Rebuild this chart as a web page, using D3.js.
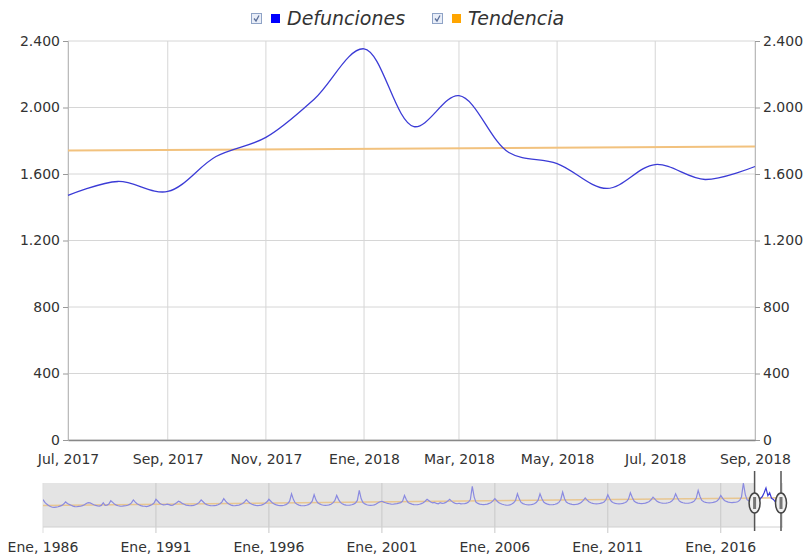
<!DOCTYPE html>
<html>
<head>
<meta charset="utf-8">
<script src="https://cdn.jsdelivr.net/npm/d3@7"></script>
<style>
  body { margin: 0; background: #fff; }
  svg text { font-family: "DejaVu Sans", Verdana, sans-serif; fill: #333; }
</style>
</head>
<body>
<div id="chart"></div>
<script>
// Defunciones mensuales, desde Ene 1986 (una fila por año)
const defunciones = [
  1650, 1480, 1380, 1300, 1230, 1190, 1180, 1200, 1220, 1260, 1300, 1380, // 1986
  1510, 1420, 1360, 1310, 1260, 1230, 1220, 1240, 1250, 1290, 1340, 1420, // 1987
  1470, 1450, 1400, 1340, 1300, 1270, 1260, 1300, 1460, 1300, 1320, 1380, // 1988
  1590, 1480, 1380, 1320, 1280, 1260, 1250, 1270, 1280, 1310, 1360, 1450, // 1989
  1630, 1500, 1400, 1340, 1290, 1260, 1250, 1230, 1260, 1300, 1350, 1440, // 1990
  1670, 1550, 1430, 1370, 1330, 1340, 1380, 1350, 1300, 1320, 1380, 1460, // 1991
  1550, 1500, 1420, 1370, 1320, 1300, 1280, 1290, 1300, 1340, 1400, 1480, // 1992
  1630, 1520, 1420, 1350, 1310, 1290, 1280, 1290, 1300, 1340, 1400, 1500, // 1993
  1710, 1560, 1440, 1370, 1320, 1290, 1280, 1300, 1310, 1360, 1420, 1500, // 1994
  1650, 1530, 1430, 1370, 1330, 1300, 1290, 1300, 1320, 1360, 1430, 1520, // 1995
  1670, 1550, 1440, 1380, 1330, 1300, 1290, 1290, 1310, 1350, 1420, 1550, // 1996
  2000, 1650, 1450, 1370, 1320, 1290, 1280, 1290, 1310, 1350, 1420, 1560, // 1997
  1945, 1620, 1460, 1390, 1340, 1310, 1300, 1310, 1330, 1370, 1450, 1580, // 1998
  1900, 1650, 1480, 1400, 1350, 1320, 1310, 1320, 1340, 1380, 1450, 1600, // 1999
  2200, 1700, 1470, 1390, 1340, 1310, 1300, 1310, 1330, 1380, 1460, 1520, // 2000
  1550, 1500, 1460, 1420, 1400, 1380, 1370, 1390, 1410, 1440, 1470, 1560, // 2001
  1900, 1640, 1480, 1420, 1380, 1350, 1340, 1350, 1370, 1410, 1460, 1550, // 2002
  1670, 1580, 1500, 1450, 1480, 1420, 1400, 1460, 1420, 1440, 1480, 1560, // 2003
  1670, 1560, 1470, 1420, 1400, 1430, 1390, 1400, 1410, 1440, 1500, 1650, // 2004
  2450, 1800, 1500, 1420, 1380, 1360, 1350, 1360, 1380, 1420, 1480, 1570, // 2005
  1710, 1580, 1480, 1420, 1370, 1340, 1320, 1310, 1330, 1390, 1460, 1600, // 2006
  2000, 1680, 1480, 1410, 1370, 1340, 1330, 1340, 1360, 1400, 1470, 1620, // 2007
  2000, 1700, 1500, 1420, 1380, 1350, 1340, 1350, 1370, 1410, 1480, 1640, // 2008
  2100, 1700, 1500, 1430, 1390, 1360, 1350, 1360, 1380, 1420, 1490, 1600, // 2009
  1750, 1620, 1520, 1460, 1420, 1400, 1390, 1400, 1420, 1450, 1510, 1640, // 2010
  1945, 1700, 1530, 1460, 1420, 1400, 1390, 1400, 1420, 1460, 1520, 1680, // 2011
  2060, 1780, 1560, 1480, 1440, 1420, 1410, 1420, 1440, 1480, 1540, 1640, // 2012
  1800, 1680, 1560, 1500, 1460, 1440, 1430, 1440, 1460, 1490, 1560, 1690, // 2013
  2000, 1750, 1570, 1500, 1460, 1440, 1430, 1440, 1460, 1500, 1570, 1740, // 2014
  2200, 1820, 1600, 1520, 1480, 1460, 1450, 1460, 1480, 1510, 1570, 1680, // 2015
  1900, 1720, 1600, 1540, 1500, 1480, 1470, 1480, 1490, 1520, 1600, 1800, // 2016
  2650, 1950, 1650, 1560, 1510, 1480, 1471, 1555, 1495, 1705, 1820, 2050, // 2017
  2353, 1885, 2071, 1729, 1663, 1513, 1657, 1567, 1645                    // 2018
];
const inicioSerie = [1986, 0];

// Tendencia: extremos de la recta (Ene 1986 y Sep 2018 / Jul 2017 y Sep 2018)
const tendenciaNav = [1290, 1765];
const tendenciaVista = [1741, 1765];

const vista = [[2017, 6], [2018, 8]];
const yTicks = [0, 400, 800, 1200, 1600, 2000, 2400];
const navAnios = [1986, 1991, 1996, 2001, 2006, 2011, 2016];
const meses = ["Ene", "Feb", "Mar", "Abr", "May", "Jun", "Jul", "Ago", "Sep", "Oct", "Nov", "Dic"];
const series = [
  { nombre: "Defunciones", color: "#0000ff" },
  { nombre: "Tendencia", color: "#ffa500" }
];

const width = 810, height = 555;
const plot = { left: 68, right: 755, top: 41, bottom: 440 };
const nav = { left: 43, right: 781, top: 483, bottom: 527 };

const locale = d3.timeFormatLocale({
  dateTime: "%x %X", date: "%d/%m/%Y", time: "%H:%M:%S",
  periods: ["AM", "PM"],
  days: ["domingo", "lunes", "martes", "miércoles", "jueves", "viernes", "sábado"],
  shortDays: ["dom", "lun", "mar", "mié", "jue", "vie", "sáb"],
  months: meses, shortMonths: meses
});
const fmtFecha = locale.format("%b, %Y");
const fmtNum = d3.formatLocale({ decimal: ",", thousands: ".", grouping: [3] }).format(",");

const data = defunciones.map((v, i) => ({
  fecha: new Date(inicioSerie[0], inicioSerie[1] + i, 1),
  valor: v
}));
const d0 = new Date(vista[0][0], vista[0][1], 1);
const d1 = new Date(vista[1][0], vista[1][1], 1);
const dataVista = data.filter(d => d.fecha >= d0 && d.fecha <= d1);

const svg = d3.select("#chart").append("svg")
  .attr("width", width).attr("height", height);

// Escalas principales
const x = d3.scaleTime().domain([d0, d1]).range([plot.left, plot.right]);
const y = d3.scaleLinear().domain([0, 2400]).range([plot.bottom, plot.top]);

const xTicks = d3.timeMonth.every(2).range(d0, d3.timeMonth.offset(d1, 1));

// Rejilla
svg.append("g").selectAll("line").data(yTicks).join("line")
  .attr("x1", plot.left).attr("x2", plot.right)
  .attr("y1", d => y(d)).attr("y2", d => y(d))
  .attr("stroke", "#d6d6d6");
svg.append("g").selectAll("line").data(xTicks).join("line")
  .attr("x1", d => x(d)).attr("x2", d => x(d))
  .attr("y1", plot.top).attr("y2", plot.bottom)
  .attr("stroke", "#d6d6d6");

// Ejes Y
const ejeIzq = svg.append("g").attr("transform", `translate(${plot.left},0)`)
  .call(d3.axisLeft(y).tickValues(yTicks).tickFormat(fmtNum).tickSize(5).tickPadding(3));
const ejeDer = svg.append("g").attr("transform", `translate(${plot.right},0)`)
  .call(d3.axisRight(y).tickValues(yTicks).tickFormat(fmtNum).tickSize(5).tickPadding(3));
[ejeIzq, ejeDer].forEach(g => {
  g.select(".domain").attr("stroke", "#bbb");
  g.selectAll(".tick line").attr("stroke", "#999");
  g.selectAll("text").style("font-size", "14px").attr("fill", "#333");
});

// Eje X
const ejeX = svg.append("g").attr("transform", `translate(0,${plot.bottom})`)
  .call(d3.axisBottom(x).tickValues(xTicks).tickFormat(fmtFecha).tickSize(0).tickPadding(14));
ejeX.select(".domain").attr("stroke", "#888").attr("stroke-width", 1.5);
ejeX.selectAll("text").style("font-size", "14px").attr("fill", "#333");

// Tendencia
svg.append("line")
  .attr("x1", x(d0)).attr("x2", x(d1))
  .attr("y1", y(tendenciaVista[0])).attr("y2", y(tendenciaVista[1]))
  .attr("stroke", "#f2c27e").attr("stroke-width", 2);

// Defunciones
svg.append("path").datum(dataVista)
  .attr("fill", "none").attr("stroke", "#3b3bd6").attr("stroke-width", 1.3)
  .attr("d", d3.line().x(d => x(d.fecha)).y(d => y(d.valor)).curve(d3.curveCatmullRom));

// Leyenda
const leyenda = svg.append("g").attr("transform", "translate(251,13)");
const posLeyenda = [0, 181];
series.forEach((s, i) => {
  const g = leyenda.append("g").attr("transform", `translate(${posLeyenda[i]},0)`);
  g.append("rect").attr("x", 0.5).attr("y", 0.5).attr("width", 10).attr("height", 10)
    .attr("fill", "#e9eef8").attr("stroke", "#8fa3c6");
  g.append("path").attr("d", "M3,5.5 L5,8 L8,2.5")
    .attr("fill", "none").attr("stroke", "#5b6f9a").attr("stroke-width", 1.3);
  g.append("rect").attr("x", 20).attr("y", 1).attr("width", 9).attr("height", 9)
    .attr("fill", s.color);
  g.append("text").attr("x", 36).attr("y", 12)
    .style("font-size", "19px").style("font-style", "italic")
    .attr("fill", "#222").text(s.nombre);
});

// Navegador
const xn = d3.scaleTime()
  .domain([data[0].fecha, data[data.length - 1].fecha])
  .range([nav.left, nav.right]);
const yn = d3.scaleLinear().domain([0, d3.max(defunciones)]).range([nav.bottom, nav.top]);

svg.append("rect")
  .attr("x", nav.left).attr("y", nav.top)
  .attr("width", nav.right + 2 - nav.left).attr("height", nav.bottom - nav.top)
  .attr("fill", "#e4e4e4");
svg.append("rect")
  .attr("x", xn(d0)).attr("y", nav.top)
  .attr("width", xn(d1) - xn(d0)).attr("height", nav.bottom - nav.top)
  .attr("fill", "#fff");

const navFechas = navAnios.map(a => new Date(a, 0, 1));
svg.append("g").selectAll("line").data(navFechas).join("line")
  .attr("x1", d => xn(d)).attr("x2", d => xn(d))
  .attr("y1", nav.top).attr("y2", nav.bottom + 6)
  .attr("stroke", d => d.getFullYear() === navAnios[0] ? "#ddd" : "#c8c8c8");
svg.append("line")
  .attr("x1", nav.left).attr("x2", nav.right + 2)
  .attr("y1", nav.bottom).attr("y2", nav.bottom)
  .attr("stroke", "#d0d0d0");

svg.append("g").selectAll("text").data(navFechas).join("text")
  .attr("x", d => xn(d)).attr("y", 552)
  .attr("text-anchor", "middle").style("font-size", "14px")
  .text(d => fmtFecha(d));

// Líneas del navegador
const defs = svg.append("defs");
defs.append("clipPath").attr("id", "clipSel").append("rect")
  .attr("x", xn(d0)).attr("y", nav.top - 5)
  .attr("width", xn(d1) - xn(d0)).attr("height", 60);
defs.append("clipPath").attr("id", "clipFuera").append("rect")
  .attr("x", nav.left).attr("y", nav.top - 5)
  .attr("width", xn(d0) - nav.left).attr("height", 60);

svg.append("line")
  .attr("x1", xn(data[0].fecha)).attr("x2", xn(data[data.length - 1].fecha))
  .attr("y1", yn(tendenciaNav[0])).attr("y2", yn(tendenciaNav[1]))
  .attr("stroke", "#e8c690").attr("stroke-width", 1.5);

const lineaNav = d3.line().x(d => xn(d.fecha)).y(d => yn(d.valor));
svg.append("path").datum(data)
  .attr("clip-path", "url(#clipFuera)")
  .attr("fill", "none").attr("stroke", "#8a8ae0").attr("stroke-width", 1.2)
  .attr("d", lineaNav);
svg.append("path").datum(data)
  .attr("clip-path", "url(#clipSel)")
  .attr("fill", "none").attr("stroke", "#3b3bd6").attr("stroke-width", 1.2)
  .attr("d", lineaNav);

// Asas de selección
[d0, d1].forEach(d => {
  const hx = xn(d);
  const g = svg.append("g");
  g.append("line").attr("x1", hx).attr("x2", hx).attr("y1", 471).attr("y2", 531)
    .attr("stroke", "#555").attr("stroke-width", 1.5);
  g.append("ellipse").attr("cx", hx).attr("cy", 503).attr("rx", 5.5).attr("ry", 10)
    .attr("fill", "#f0f0f0").attr("stroke", "#444").attr("stroke-width", 1.5);
  g.append("rect").attr("x", hx - 1.5).attr("y", 497).attr("width", 3).attr("height", 12)
    .attr("fill", "#777");
});
</script>
</body>
</html>
